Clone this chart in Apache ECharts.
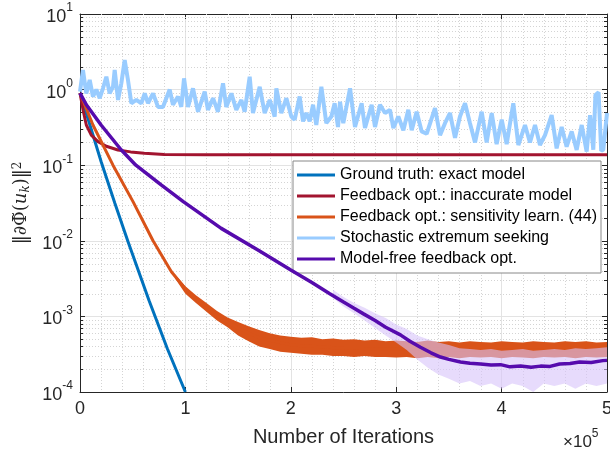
<!DOCTYPE html>
<html>
<head>
<meta charset="utf-8">
<script src="https://cdn.jsdelivr.net/npm/echarts@6/dist/echarts.min.js"></script>
<style>
html, body {margin: 0; padding: 0; background: #fff;}
#showcase {width: 610px; height: 450px;}
</style>
</head>
<body>
<div id="showcase"></div>
<script>
// x in units of 1e5 iterations
var xTicks = [0, 1, 2, 3, 4, 5];
var seriesNames = [
	"Ground truth: exact model",
	"Feedback opt.: inaccurate model",
	"Feedback opt.: sensitivity learn. (44)",
	"Stochastic extremum seeking",
	"Model-free feedback opt."
];

var gtX = [0, 0.1, 0.2, 0.33, 0.455, 0.56, 0.655, 0.83, 1.0];
var gtY = [0.9, 0.32, 0.112, 0.0316, 0.0098, 0.0038, 0.00162, 0.00037, 0.0001];

var inaccX = [0, 0.03, 0.06, 0.107, 0.171, 0.25, 0.36, 0.48, 0.61, 0.8, 1.2, 2, 3, 4, 5];
var inaccY = [0.9, 0.53, 0.34, 0.25, 0.205, 0.178, 0.159, 0.15, 0.144, 0.139, 0.137, 0.137, 0.137, 0.137, 0.137];

var sensX = [0, 0.123, 0.313, 0.503, 0.693, 0.867, 1.025, 1.18, 1.33, 1.5, 1.7, 2.0, 2.5, 3.0, 4.0, 5.0];
var sensY = [0.9, 0.34, 0.1, 0.033, 0.01, 0.0039, 0.0021, 0.0014, 0.00095, 0.0007, 0.00052, 0.00042, 0.00038, 0.00037, 0.00036, 0.00036];
// spread of the noisy sensitivity-learning trace
var sensBandX = [0.9, 1.0, 1.1, 1.2, 1.3, 1.4, 1.5, 1.6, 1.7, 1.8, 1.9, 2.0, 2.1, 2.2, 2.3, 2.4, 2.5, 2.6, 2.7, 2.8, 2.9, 3.0,
	3.1, 3.2, 3.3, 3.4, 3.5, 3.6, 3.7, 3.8, 3.9, 4.0, 4.1, 4.2, 4.3, 4.4, 4.5, 4.6, 4.7, 4.8, 4.9, 5.0];
var sensBandLo = [0.0032, 0.002, 0.0015, 0.00115, 0.00088, 0.00072, 0.00056, 0.00047, 0.0004, 0.00037, 0.00034, 0.00033, 0.00032, 0.00031, 0.00031, 0.0003, 0.0003, 0.00029, 0.0003, 0.00029, 0.00029, 0.000285,
	0.00029, 0.00028, 0.00029, 0.00028, 0.00029, 0.00028, 0.00029, 0.000285, 0.00029, 0.00028, 0.00029, 0.000285, 0.00028, 0.00029, 0.000285, 0.00029, 0.00028, 0.00029, 0.000285, 0.00029];
var sensBandHi = [0.0036, 0.0025, 0.0019, 0.0015, 0.00118, 0.00097, 0.00084, 0.00074, 0.00066, 0.0006, 0.00056, 0.00054, 0.00052, 0.00053, 0.0005, 0.00051, 0.00049, 0.0005, 0.00048, 0.00049, 0.00047, 0.00048,
	0.00047, 0.00046, 0.00048, 0.00046, 0.00047, 0.00045, 0.00047, 0.00046, 0.00045, 0.00047, 0.00046, 0.00045, 0.00047, 0.00046, 0.00045, 0.00047, 0.00046, 0.00047, 0.00045, 0.00046];

var sesX = [0, 0.028, 0.060, 0.092, 0.123, 0.155, 0.187, 0.218, 0.250, 0.281, 0.313, 0.329, 0.361, 0.392, 0.424, 0.455, 0.487,
	0.534, 0.582, 0.614, 0.645, 0.693, 0.740, 0.787, 0.851, 0.882, 0.930, 0.961, 0.987, 1.025, 1.072, 1.120, 1.183, 1.214,
	1.262, 1.309, 1.357, 1.388, 1.436, 1.483, 1.531, 1.562, 1.610, 1.641, 1.705, 1.752, 1.800, 1.847, 1.863, 1.910, 1.958,
	2.005, 2.037, 2.084, 2.116, 2.147, 2.179, 2.211, 2.242, 2.290, 2.337, 2.385, 2.416, 2.448, 2.467, 2.498, 2.562, 2.609,
	2.672, 2.704, 2.767, 2.799, 2.846, 2.894, 2.941, 2.973, 3.020, 3.068, 3.115, 3.147, 3.194, 3.242, 3.289, 3.368, 3.416,
	3.463, 3.510, 3.558, 3.605, 3.653, 3.700, 3.748, 3.811, 3.858, 3.906, 3.953, 4.001, 4.048, 4.111, 4.159, 4.222, 4.269,
	4.317, 4.364, 4.412, 4.475, 4.522, 4.570, 4.617, 4.665, 4.712, 4.760, 4.807, 4.839, 4.870, 4.890, 4.920, 4.945, 4.965, 5.0];
var sesY = [0.94, 1.82, 0.89, 1.34, 0.81, 1.0, 0.77, 1.04, 1.48, 0.89, 1.09, 1.82, 0.73, 1.21, 2.46, 1.34, 0.66,
	0.73, 0.66, 0.89, 0.66, 0.89, 0.59, 0.59, 1.0, 0.63, 0.81, 0.59, 1.41, 0.59, 1.04, 0.51, 0.94, 0.54,
	0.77, 0.51, 1.21, 0.59, 0.89, 0.54, 0.73, 0.51, 1.48, 0.49, 1.09, 0.49, 0.73, 0.44, 1.04, 0.49, 0.77,
	0.44, 0.40, 0.81, 0.38, 0.49, 0.38, 0.63, 0.34, 1.09, 0.36, 0.44, 0.66, 0.32, 0.69, 0.36, 1.04, 0.32,
	0.66, 0.31, 0.63, 0.32, 0.63, 0.49, 0.54, 0.31, 0.44, 0.29, 0.54, 0.29, 0.51, 0.28, 0.26, 0.57, 0.25,
	0.36, 0.49, 0.23, 0.44, 0.66, 0.36, 0.20, 0.51, 0.20, 0.49, 0.19, 0.40, 0.19, 0.66, 0.185, 0.34, 0.20,
	0.34, 0.185, 0.25, 0.46, 0.167, 0.32, 0.176, 0.28, 0.159, 0.34, 0.151, 0.46, 0.16, 0.85, 0.92, 0.155, 0.16, 0.49];

var mfX = [0, 0.06, 0.2, 0.39, 0.53, 0.77, 0.98, 1.34, 1.7, 2.0, 2.2, 2.37, 2.5, 2.6, 2.69, 2.8, 2.9, 3.04, 3.13, 3.23, 3.33,
	3.42, 3.5, 3.61, 3.7, 3.8, 3.9, 3.99, 4.08, 4.18, 4.28, 4.37, 4.46, 4.55, 4.65, 4.74, 4.85, 4.96, 5.0];
var mfY = [0.9, 0.63, 0.34, 0.16, 0.1, 0.055, 0.033, 0.0146, 0.0074, 0.0041, 0.0028, 0.002, 0.00155, 0.00128, 0.00108, 0.00088, 0.00072,
	0.00057, 0.00047, 0.00039, 0.00033, 0.00029, 0.00027, 0.00025, 0.00024, 0.000235, 0.000228, 0.00023, 0.000215, 0.00022, 0.000212,
	0.00022, 0.000218, 0.000235, 0.000238, 0.00025, 0.000245, 0.00026, 0.000262];
var mfBandX = [2.4, 2.5, 2.6, 2.7, 2.8, 2.9, 3.0, 3.1, 3.2, 3.3, 3.4, 3.5, 3.6, 3.7, 3.8, 3.9, 4.0, 4.1, 4.2, 4.3, 4.4, 4.5, 4.6, 4.7, 4.8, 4.9, 5.0];
var mfBandLo = [0.00175, 0.00135, 0.0011, 0.00088, 0.0007, 0.00056, 0.00045, 0.00036, 0.00027, 0.00021, 0.00017, 0.00015, 0.00013, 0.00014,
	0.00012, 0.00013, 0.00011, 0.00013, 0.00012, 0.0001, 0.00013, 0.00012, 0.00013, 0.00011, 0.00013, 0.00012, 0.00013];
var mfBandHi = [0.00225, 0.0018, 0.0015, 0.0013, 0.0011, 0.00095, 0.00078, 0.00068, 0.00056, 0.0005, 0.00045, 0.00042, 0.00038, 0.00037,
	0.00036, 0.00037, 0.00035, 0.00036, 0.00037, 0.00035, 0.00036, 0.00037, 0.00036, 0.00038, 0.00037, 0.00038, 0.00039];

// minor grid positions
var minorX = [];
xTicks.slice(0, -1).forEach(function (t) {
	[0.2, 0.4, 0.6, 0.8].forEach(function (f) { minorX.push(t + f); });
});
var minorY = [];
[-4, -3, -2, -1, 0].forEach(function (d) {
	for (var m = 2; m <= 9; m++) minorY.push(m * Math.pow(10, d));
});

var font = "Liberation Sans";
var mathFont = "DejaVu Serif";
var axisColor = "#262626";

function pairs(xs, ys) {
	return xs.map(function (x, i) { return [x, ys[i]]; });
}

function renderMinorGrid(params, api) {
	if (params.dataIndex !== 0) return null;
	var x0 = api.coord([0, 1])[0], x1 = api.coord([5, 1])[0];
	var yTop = api.coord([0, 10])[1], yBot = api.coord([0, 1e-4])[1];
	var dotted = {stroke: "#d4d4d4", lineWidth: 1, lineDash: [1, 2]};
	var tick = {stroke: axisColor, lineWidth: 1};
	var kids = [];
	minorY.forEach(function (v) {
		var y = Math.round(api.coord([0, v])[1]) + 0.5;
		kids.push({type: "line", shape: {x1: x0, y1: y, x2: x1, y2: y}, style: dotted});
		kids.push({type: "line", shape: {x1: x0, y1: y, x2: x0 + 3, y2: y}, style: tick});
		kids.push({type: "line", shape: {x1: x1 - 3, y1: y, x2: x1, y2: y}, style: tick});
	});
	minorX.forEach(function (v) {
		var x = Math.round(api.coord([v, 1])[0]) + 0.5;
		kids.push({type: "line", shape: {x1: x, y1: yTop, x2: x, y2: yBot}, style: dotted});
	});
	return {type: "group", children: kids};
}

function bandRenderer(xs, lo, hi, fill) {
	return function (params, api) {
		if (params.dataIndex !== 0) return null;
		var pts = [];
		for (var i = 0; i < xs.length; i++) pts.push(api.coord([xs[i], hi[i]]));
		for (var j = xs.length - 1; j >= 0; j--) pts.push(api.coord([xs[j], lo[j]]));
		return {type: "polygon", shape: {points: pts}, style: {fill: fill}};
	};
}

function lineSeries(name, xs, ys, color, width, z) {
	return {
		name: name,
		type: "line",
		data: pairs(xs, ys),
		showSymbol: false,
		symbol: "none",
		color: color,
		lineStyle: {color: color, width: width},
		itemStyle: {color: color},
		z: z,
		silent: true
	};
}

var myChart = echarts.init(document.getElementById("showcase"));
var option = {
	animation: false,
	backgroundColor: "#fff",
	grid: {left: 80, right: 3, top: 14, bottom: 58, containLabel: false, outerBoundsMode: "none"},
	legend: {
		orient: "vertical",
		left: 293,
		top: 161,
		icon: "rect",
		itemWidth: 38,
		itemHeight: 3,
		itemGap: 5,
		padding: [6, 4, 6, 4],
		borderColor: "#888",
		borderWidth: 1,
		backgroundColor: "#fff",
		textStyle: {fontSize: 16, fontFamily: font, color: "#000", lineHeight: 16},
		data: seriesNames,
		selectedMode: false
	},
	xAxis: [{
		type: "value",
		min: 0,
		max: 5,
		interval: 1,
		name: "Number of Iterations",
		nameLocation: "middle",
		nameGap: 35,
		nameTextStyle: {fontSize: 20, fontFamily: font, color: axisColor},
		axisLine: {show: true, onZero: false, lineStyle: {color: axisColor}},
		axisTick: {show: true, inside: true, length: 5, lineStyle: {color: axisColor}},
		axisLabel: {fontSize: 18, fontFamily: font, color: axisColor, margin: 8, formatter: function (v) { return String(v); }},
		splitLine: {show: true, lineStyle: {color: "#e3e3e3"}}
	}, {
		type: "value",
		position: "top",
		min: 0,
		max: 5,
		interval: 1,
		axisLine: {show: true, onZero: false, lineStyle: {color: axisColor}},
		axisTick: {show: true, inside: true, length: 5, lineStyle: {color: axisColor}},
		axisLabel: {show: false},
		splitLine: {show: false}
	}],
	yAxis: [{
		type: "log",
		logBase: 10,
		min: 1e-4,
		max: 10,
		splitNumber: 5,
		name: "{a|\u2016\u2202\u03A6\u0303(}{u|u}{k|k}{a|)\u2016}{s|2}",
		nameLocation: "middle",
		nameGap: 48,
		nameTextStyle: {
			color: axisColor,
			rich: {
				a: {fontSize: 18, fontFamily: mathFont, color: axisColor},
				u: {fontSize: 18, fontFamily: mathFont, fontStyle: "italic", color: axisColor},
				k: {fontSize: 12, fontFamily: mathFont, fontStyle: "italic", color: axisColor, verticalAlign: "bottom", padding: [8, 0, 0, 0]},
				s: {fontSize: 12, fontFamily: mathFont, color: axisColor, verticalAlign: "top", padding: [0, 0, 8, 0]}
			}
		},
		axisLine: {show: true, onZero: false, lineStyle: {color: axisColor}},
		axisTick: {show: true, inside: true, length: 5, lineStyle: {color: axisColor}},
		axisLabel: {
			margin: 7,
			showMinLabel: true,
			showMaxLabel: true,
			formatter: function (v) { return "{b|10}{e|" + Math.round(Math.log10(v)) + "}"; },
			rich: {
				b: {fontSize: 18, fontFamily: font, color: axisColor, padding: [6, 0, 0, 0]},
				e: {fontSize: 12, fontFamily: font, color: axisColor, verticalAlign: "top", lineHeight: 14}
			}
		},
		splitLine: {show: true, lineStyle: {color: "#e3e3e3"}}
	}, {
		type: "log",
		logBase: 10,
		min: 1e-4,
		max: 10,
		splitNumber: 5,
		position: "right",
		axisLine: {show: true, onZero: false, lineStyle: {color: axisColor}},
		axisTick: {show: true, inside: true, length: 5, lineStyle: {color: axisColor}},
		axisLabel: {show: false},
		splitLine: {show: false}
	}],
	graphic: [{
		type: "text",
		left: 563,
		top: 428,
		style: {
			text: "{a|\u00D710}{s|5}",
			rich: {
				a: {fontSize: 17, fontFamily: font, fill: axisColor, padding: [6, 0, 0, 0]},
				s: {fontSize: 12, fontFamily: font, fill: axisColor, verticalAlign: "top"}
			}
		}
	}],
	series: [
		{
			type: "custom",
			name: "minor grid",
			renderItem: renderMinorGrid,
			data: [[0, 1]],
			z: 1,
			silent: true
		},
		lineSeries(seriesNames[0], gtX, gtY, "#0072BD", 3, 3),
		lineSeries(seriesNames[1], inaccX, inaccY, "#A2142F", 3, 3),
		lineSeries(seriesNames[2], sensX, sensY, "#D95319", 3, 4),
		{
			type: "custom",
			name: "sens band",
			renderItem: bandRenderer(sensBandX, sensBandLo, sensBandHi, "#D95319"),
			data: pairs(sensBandX, sensBandLo),
			clip: true,
			z: 4,
			silent: true
		},
		lineSeries(seriesNames[3], sesX, sesY, "#99CCFF", 4, 5),
		{
			type: "custom",
			name: "mf band",
			renderItem: bandRenderer(mfBandX, mfBandLo, mfBandHi, "rgba(215,195,250,0.6)"),
			data: pairs(mfBandX, mfBandLo),
			clip: true,
			z: 6,
			silent: true
		},
		lineSeries(seriesNames[4], mfX, mfY, "#560BAD", 3.5, 7)
	]
};
myChart.setOption(option);
</script>
</body>
</html>
